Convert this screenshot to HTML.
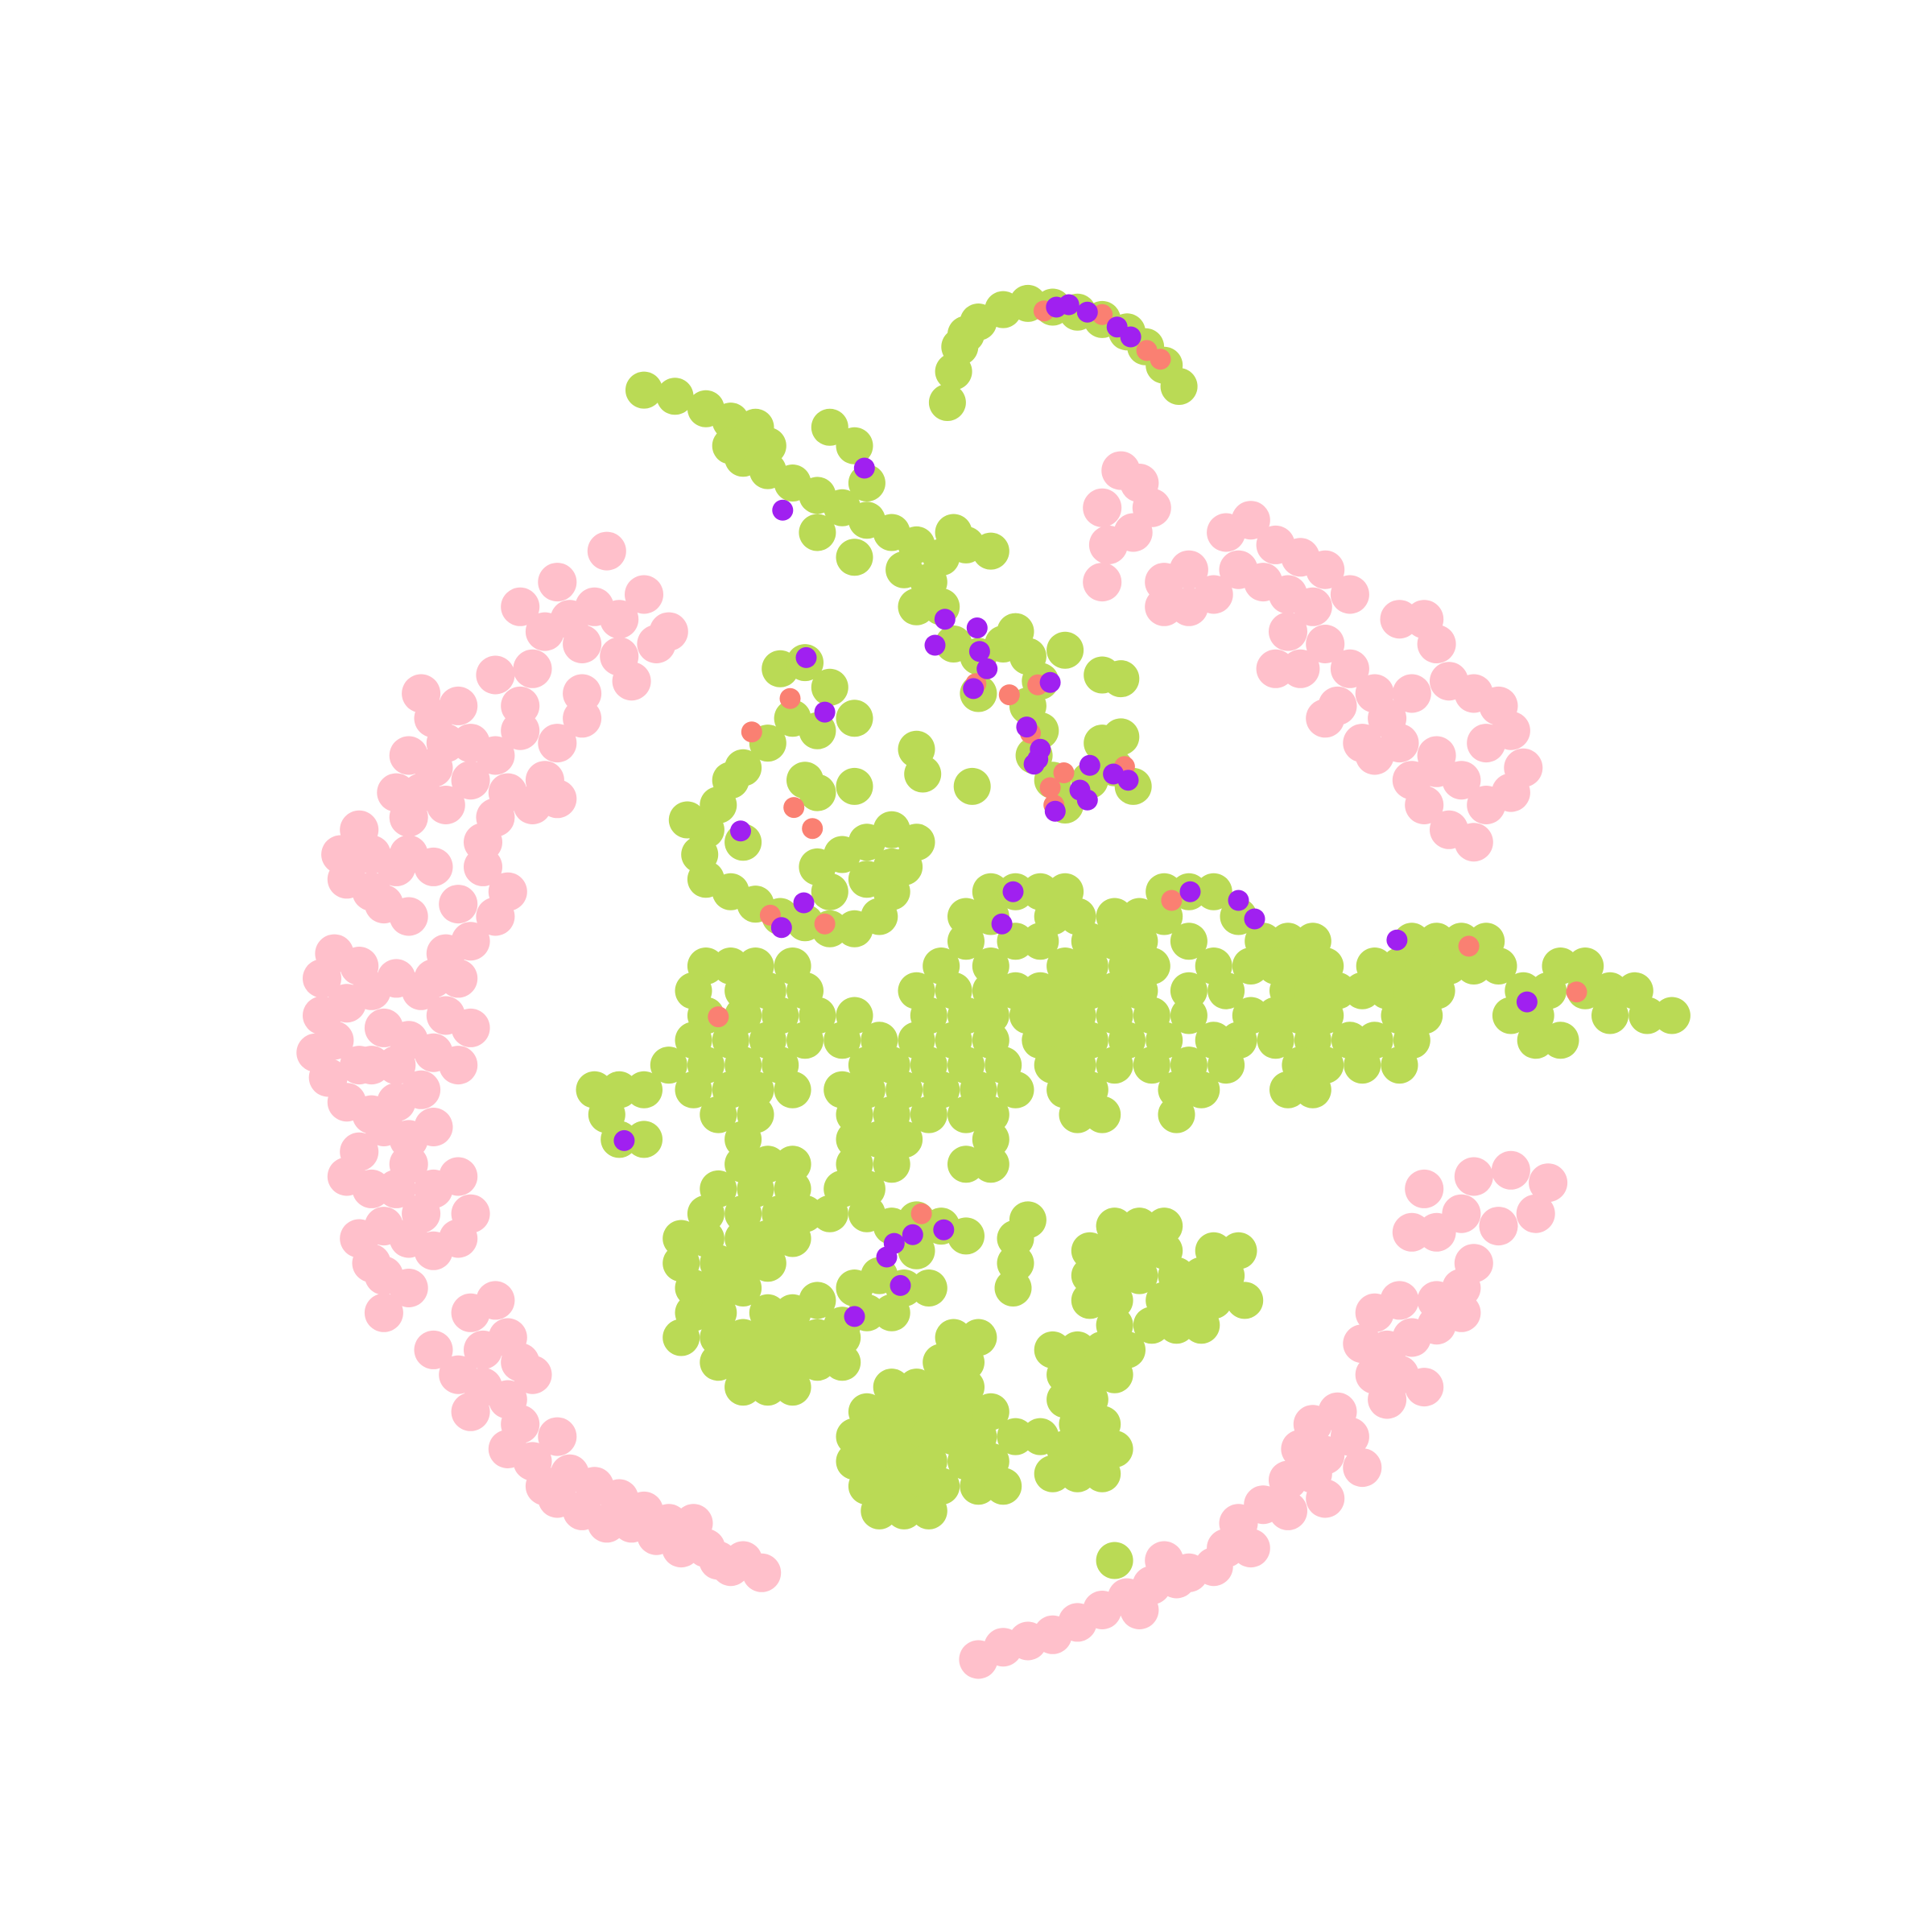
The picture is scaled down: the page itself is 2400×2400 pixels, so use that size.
<!DOCTYPE html>
<html>
<head>
<meta charset="utf-8">
<style>
html,body{margin:0;padding:0;background:#fff;}
svg{display:block;}
</style>
</head>
<body>
<svg id="chart" width="2400" height="2400" viewBox="0 0 2400 2400" xmlns="http://www.w3.org/2000/svg">
<rect width="2400" height="2400" fill="#ffffff"/>
<g id="pink"></g>
<g id="green"></g>
<g id="orange"></g>
<g id="purple"></g>
</svg>
<script>
const pinkPoints = [
[420,490],[450,470],[490,445],[520,480],[540,510],[500,530],[470,520],[440,510],[430,540],[470,560],[510,550],[530,520],[400,545],[370,570],[340,560],[350,580],[380,600],[420,590],[450,600],[470,580],[440,630],[410,640],[380,630],[350,620],[330,610],[320,640],[330,660],[360,650],[400,660],[430,650],[450,645],[290,670],[275,690],[280,710],[300,720],[320,700],[330,690],[310,730],[330,740],[390,700],[410,720],[400,740],[380,760],[360,770],[350,790],[270,770],[260,790],[260,820],[255,850],[265,870],[290,780],[300,800],[320,790],[340,800],[370,790],[310,830],[330,840],[350,850],[370,860],[380,830],[300,860],[280,890],[300,900],[320,890],[340,880],[350,910],[290,930],[280,950],[300,960],[330,940],[350,960],[370,950],[380,980],[290,1000],[310,990],[330,1000],[350,1010],[310,1030],[330,1040],[300,1020],[370,1000],[380,1060],[400,1050],[410,1080],[420,1100],[350,1090],[370,1110],[390,1120],[410,1130],[430,1110],[420,1150],[410,1170],[430,1180],[450,1160],[460,1190],[480,1200],[500,1210],[470,1220],[450,1210],[490,1230],[520,1220],[530,1240],[550,1250],[570,1250],[560,1230],[600,1260],[615,1270],[590,1265],[540,1230],
[460,500],[480,490],[500,500],[420,570],[400,610],[360,600],[340,640],[300,690],[350,700],[370,730],[390,680],[280,810],[270,840],[290,860],[320,860],[360,820],[330,920],[310,910],[320,960],[340,980],[310,1060],[390,1090],[380,1140],[440,1200],[510,1230],[580,1260],
[905,380],[920,390],[930,410],[890,410],[895,440],[890,470],[915,430],[940,470],[960,460],[990,430],[1010,420],[1030,440],[1050,450],[1070,460],[1090,480],[1060,490],[1040,480],[1020,470],[1000,460],[980,480],[960,490],[940,490],[1040,510],[1030,540],[1050,540],[1070,520],[1090,540],[1110,560],[1080,570],[1100,600],[1120,580],[1140,560],[1130,500],[1150,500],[1160,520],[1170,550],[1190,560],[1210,570],[1220,590],[1200,600],[1230,620],[1220,640],[1200,650],[1180,630],[1160,620],[1140,630],[1150,650],[1170,670],[1190,680],[1160,610],[1130,600],[1110,610],[1070,580],
[1150,960],[1190,950],[1220,945],[1250,955],[1240,980],[1210,990],[1180,980],[1160,995],[1140,995],[1190,1020],[1180,1040],[1160,1050],[1130,1050],[1110,1060],[1100,1085],[1120,1090],[1140,1080],[1160,1070],[1180,1060],[1130,1110],[1110,1110],[1150,1120],[1120,1130],[1080,1140],[1060,1150],[1050,1170],[1070,1175],[1090,1160],[1100,1185],[1060,1190],[1040,1195],[1070,1210],[1040,1220],[1020,1215],[1000,1230],[990,1250],[1010,1250],[980,1265],[960,1270],[940,1260],[930,1280],[910,1290],[890,1300],[870,1310],[850,1320],[830,1325],[810,1330],[790,1340],[920,1300],[950,1275]
];
const greenPoints = [
[765,325],[770,300],[775,280],[790,260],[810,250],[830,245],[850,248],[870,252],[890,258],[910,268],[925,280],[940,295],[952,312],[780,270],
[520,315],[545,320],[570,330],[590,340],[610,345],[600,370],[620,380],[640,390],[660,400],[680,410],[700,420],[720,430],[740,440],[760,450],[780,440],[800,445],[730,460],[750,470],[740,490],[760,490],[770,520],[790,530],[810,520],[830,530],[820,510],[840,550],[830,570],[840,590],[835,610],[850,630],[860,650],[670,345],[690,360],[700,390],[660,430],[690,450],[620,360],[590,360],[770,430],[790,560],[890,545],[905,548],[890,600],[905,595],[900,620],[915,635],[880,630],[785,635],[860,525],
[630,540],[650,535],[670,555],[690,580],[660,590],[640,580],[620,600],[600,620],[590,630],[580,650],[570,670],[565,690],[570,710],[590,720],[610,730],[630,740],[650,745],[670,750],[690,750],[710,740],[720,720],[730,700],[740,680],[720,670],[700,680],[680,690],[660,700],[670,720],[700,710],[650,630],[660,640],[690,635],[600,680],[740,605],[745,625],[555,662],[720,700],
[720,990],[740,985],[760,990],[780,998],[740,1010],[710,1030],[730,1040],[750,1040],[690,1040],[700,1060],[720,1060],[660,1050],[680,1070],
[820,1000],[830,985],[820,1020],[818,1040],[900,1260]
];
const greenRowY = [720,740,760,780,800,820,840,860,880,900,920,940,960,980,1000,1020,1040,1060,1080,1100,1120,1080,1100,1120,1140,1160,1180,1200,1220,990,1010,1030,1050,1070,1090,1110,1130,1150,1170,1190];
const greenRowX = [
[800,820,840,860,940,960,980],
[780,800,850,870,900,920,940,1000],
[780,820,840,880,900,920,960,1020,1040,1060,1140,1160,1180,1200],
[570,590,610,640,760,800,860,880,910,930,980,1010,1030,1050,1070,1110,1130,1150,1170,1190,1210,1260,1280],
[560,600,620,650,740,770,800,820,840,860,880,900,920,960,990,1040,1060,1080,1100,1120,1140,1160,1230,1250,1280,1300,1320],
[570,600,630,660,690,750,780,800,830,850,870,900,930,960,1010,1030,1050,1070,1130,1150,1220,1240,1300,1330,1350],
[560,590,620,650,680,710,740,770,800,840,860,880,910,940,980,1000,1030,1060,1090,1110,1140,1240,1260],
[540,570,600,630,700,720,750,780,810,850,870,900,930,960,990,1050,1070,1100,1130],
[480,500,520,560,590,610,640,680,700,730,760,790,820,860,880,950,970,1040,1060],
[490,580,610,690,720,750,780,800,870,890,950],
[500,520,600,690,710,730,800],
[600,620,640,690,720,780,800],
[580,610,640,680,700],
[570,600,630,650,670,700],
[550,570,600,620,640],
[550,580,600,620],
[560,580,600],
[560,580,620,640],
[550,580,600,620,640,660,680],
[580,600,620,640,660,680],
[600,620,640],
[770,790],
[760,780],
[720,740,760,780],
[700,720,740,760,780,800],
[690,710,730,750,770,790,820,840],
[690,710,730,750,780,800],
[700,720,740,760,790,810],
[710,730,750],
[900,920,940],
[880,900,920,940,980,1000],
[880,900,920,950,970,990],
[880,900,940,960,980,1005],
[900,930,950,970],
[850,870,890,910],
[860,880,900],
[860,880],
[870,890],
[860,880,900],
[850,870,890]
];
const purplePoints = [[853,248],[863,246],[878,252],[902,264],[913,272],[698,378],[632,412],[763,500],[789,507],[755,521],[791,526],[797,540],[786,556],[848,551],[651,531],[666,575],[829,587],[840,605],[838,613],[835,617],[880,618],[899,625],[911,630],[872,638],[878,646],[852,655],[598,671],[649,729],[631,749],[818,720],[809,746],[961,720],[1000,727],[1013,742],[1128,759],[1233,809],[504,921],[722,1004],[737,997],[762,993],[716,1015],[727,1038],[690,1063]];
const orangePoints = [[843,251],[890,254],[926,283],[937,290],[788,552],[815,561],[838,553],[832,592],[859,624],[848,636],[851,650],[908,619],[638,564],[607,591],[641,652],[656,669],[622,739],[666,746],[946,727],[1186,764],[1273,801],[580,821],[744,980]];

const SCALE = 2400/1560;
function xScale(v){ return v*SCALE; }
function yScale(v){ return v*SCALE; }
const NS = "http://www.w3.org/2000/svg";
function dot(g, x, y, r, fill, name){
  const c = document.createElementNS(NS, "circle");
  c.setAttribute("cx", xScale(x).toFixed(1));
  c.setAttribute("cy", yScale(y).toFixed(1));
  c.setAttribute("r", r);
  c.setAttribute("fill", fill);
  
  
  g.appendChild(c);
}
const gp = document.getElementById("pink");
pinkPoints.forEach(p => dot(gp, p[0], p[1], 24, "#ffc0cb", "pink-point"));
const gg = document.getElementById("green");
greenPoints.forEach(p => dot(gg, p[0], p[1], 23, "#bada55", "green-point"));
greenRowY.forEach((y, i) => greenRowX[i].forEach(x => dot(gg, x, y, 23, "#bada55", "green-point")));
const go = document.getElementById("orange");
orangePoints.forEach(p => dot(go, p[0], p[1], 13, "#fa8072", "orange-point"));
const gu = document.getElementById("purple");
purplePoints.forEach(p => dot(gu, p[0], p[1], 13, "#a020f0", "purple-point"));
</script>
</body>
</html>
